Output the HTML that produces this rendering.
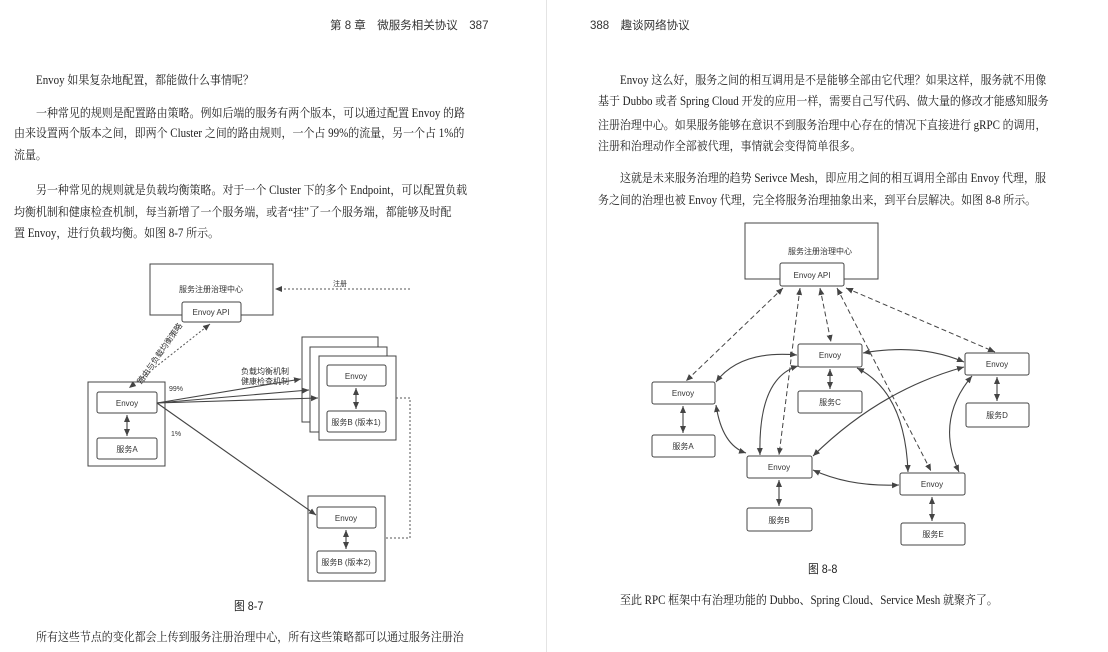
<!DOCTYPE html>
<html><head><meta charset="utf-8"><style>
html,body{margin:0;padding:0;background:#fff;}
body{width:1108px;height:652px;position:relative;overflow:hidden;font-family:"Liberation Serif","Noto Serif CJK SC",serif;color:#222;}
.l{position:absolute;font-size:12.2px;white-space:nowrap;line-height:18px;transform:scaleX(0.9);transform-origin:0 0;}
.h{position:absolute;font-family:"Liberation Sans","Noto Sans CJK SC",sans-serif;font-size:11.5px;color:#333;}
svg{position:absolute;left:0;top:0;}
svg text{font-family:"Liberation Sans","Noto Sans CJK SC",sans-serif;fill:#333;}
</style></head><body>
<div style="position:absolute;left:546px;top:0;width:1px;height:652px;background:#e4e4e4"></div>
<div class="h" style="left:330px;top:17px;">第 8 章　微服务相关协议　387</div>
<div class="h" style="left:590px;top:17px;">388　趣谈网络协议</div>

<div class="l" style="left:36px;top:71px;">Envoy 如果复杂地配置，都能做什么事情呢？</div>
<div class="l" style="left:36px;top:104px;">一种常见的规则是配置路由策略。例如后端的服务有两个版本，可以通过配置 Envoy 的路</div>
<div class="l" style="left:14px;top:124px;">由来设置两个版本之间，即两个 Cluster 之间的路由规则，一个占 99%的流量，另一个占 1%的</div>
<div class="l" style="left:14px;top:146px;">流量。</div>
<div class="l" style="left:36px;top:181px;">另一种常见的规则就是负载均衡策略。对于一个 Cluster 下的多个 Endpoint，可以配置负载</div>
<div class="l" style="left:14px;top:203px;">均衡机制和健康检查机制，每当新增了一个服务端，或者“挂”了一个服务端，都能够及时配</div>
<div class="l" style="left:14px;top:224px;">置 Envoy，进行负载均衡。如图 8-7 所示。</div>
<div class="l" style="left:234px;top:597px;font-size:12px;font-family:'Liberation Sans','Noto Sans CJK SC',sans-serif;">图 8-7</div>
<div class="l" style="left:36px;top:628px;">所有这些节点的变化都会上传到服务注册治理中心，所有这些策略都可以通过服务注册治</div>

<div class="l" style="left:620px;top:71px;">Envoy 这么好，服务之间的相互调用是不是能够全部由它代理？如果这样，服务就不用像</div>
<div class="l" style="left:598px;top:92px;">基于 Dubbo 或者 Spring Cloud 开发的应用一样，需要自己写代码、做大量的修改才能感知服务</div>
<div class="l" style="left:598px;top:116px;">注册治理中心。如果服务能够在意识不到服务治理中心存在的情况下直接进行 gRPC 的调用，</div>
<div class="l" style="left:598px;top:137px;">注册和治理动作全部被代理，事情就会变得简单很多。</div>
<div class="l" style="left:620px;top:169px;">这就是未来服务治理的趋势 Serivce Mesh，即应用之间的相互调用全部由 Envoy 代理，服</div>
<div class="l" style="left:598px;top:191px;">务之间的治理也被 Envoy 代理，完全将服务治理抽象出来，到平台层解决。如图 8-8 所示。</div>
<div class="l" style="left:808px;top:560px;font-size:12px;font-family:'Liberation Sans','Noto Sans CJK SC',sans-serif;">图 8-8</div>
<div class="l" style="left:620px;top:591px;">至此 RPC 框架中有治理功能的 Dubbo、Spring Cloud、Service Mesh 就聚齐了。</div>

<svg width="1108" height="652" viewBox="0 0 1108 652">
<defs>
<marker id="a" markerWidth="8" markerHeight="8" refX="7" refY="4" orient="auto-start-reverse" markerUnits="userSpaceOnUse"><path d="M0,1 L7,4 L0,7 z" fill="#444"/></marker>
</defs>
<g fill="#fff" stroke="#444" stroke-width="1">
<rect x="150" y="264" width="123" height="51"/>
<rect x="182" y="302" width="59" height="20" rx="2"/>
<rect x="88" y="382" width="77" height="84"/>
<rect x="97" y="392" width="60" height="21" rx="2"/>
<rect x="97" y="438" width="60" height="21" rx="2"/>
<rect x="302" y="337" width="76" height="85"/>
<rect x="310" y="347" width="77" height="85"/>
<rect x="319" y="356" width="77" height="84"/>
<rect x="327" y="365" width="59" height="21" rx="2"/>
<rect x="327" y="411" width="59" height="21" rx="2"/>
<rect x="308" y="496" width="77" height="85"/>
<rect x="317" y="507" width="59" height="21" rx="2"/>
<rect x="317" y="551" width="59" height="22" rx="2"/>
<rect x="745" y="223" width="133" height="56"/>
<rect x="780" y="263" width="64" height="23" rx="2"/>
<rect x="798" y="344" width="64" height="23" rx="2"/>
<rect x="798" y="391" width="64" height="22" rx="2"/>
<rect x="965" y="353" width="64" height="22" rx="2"/>
<rect x="966" y="403" width="63" height="24" rx="2"/>
<rect x="652" y="382" width="63" height="22" rx="2"/>
<rect x="652" y="435" width="63" height="22" rx="2"/>
<rect x="747" y="456" width="65" height="22" rx="2"/>
<rect x="747" y="508" width="65" height="23" rx="2"/>
<rect x="900" y="473" width="65" height="22" rx="2"/>
<rect x="901" y="523" width="64" height="22" rx="2"/>
</g>
<g font-size="8" text-anchor="middle">
<text x="211" y="292">服务注册治理中心</text>
<text x="211" y="315">Envoy API</text>
<text x="127" y="406">Envoy</text>
<text x="127" y="452">服务A</text>
<text x="356" y="379">Envoy</text>
<text x="356" y="425">服务B (版本1)</text>
<text x="346" y="521">Envoy</text>
<text x="346" y="565">服务B (版本2)</text>
<text x="340" y="286" font-size="7">注册</text>
<text x="176" y="391" font-size="7">99%</text>
<text x="176" y="436" font-size="7">1%</text>
<text x="265" y="374" font-size="8">负载均衡机制</text>
<text x="265" y="384" font-size="8">健康检查机制</text>
<text x="0" y="0" font-size="8" transform="translate(162,355) rotate(-55)">路由与负载均衡策略</text>
<text x="820" y="254">服务注册治理中心</text>
<text x="812" y="278">Envoy API</text>
<text x="830" y="358">Envoy</text>
<text x="830" y="405">服务C</text>
<text x="997" y="367">Envoy</text>
<text x="997" y="418">服务D</text>
<text x="683" y="396">Envoy</text>
<text x="683" y="449">服务A</text>
<text x="779" y="470">Envoy</text>
<text x="779" y="523">服务B</text>
<text x="932" y="487">Envoy</text>
<text x="933" y="537">服务E</text>
</g>
<g fill="none" stroke="#444" stroke-width="1.1" marker-start="url(#a)" marker-end="url(#a)">
<line x1="127" y1="415" x2="127" y2="436"/>
<line x1="356" y1="388" x2="356" y2="409"/>
<line x1="346" y1="530" x2="346" y2="549"/>
<line x1="830" y1="369" x2="830" y2="389"/>
<line x1="997" y1="377" x2="997" y2="401"/>
<line x1="683" y1="406" x2="683" y2="433"/>
<line x1="779" y1="480" x2="779" y2="506"/>
<line x1="932" y1="497" x2="932" y2="521"/>
<path d="M797,355 Q740,350 716,382"/>
<path d="M863,353 Q920,343 964,362"/>
<path d="M716,405 Q722,445 746,453"/>
<path d="M798,366 Q758,378 760,455"/>
<path d="M964,367 Q880,390 813,456"/>
<path d="M857,368 Q905,392 908,472"/>
<path d="M972,376 Q935,420 959,472"/>
<path d="M813,470 Q850,487 899,485"/>
</g>
<g fill="none" stroke="#444" stroke-width="1.1" marker-end="url(#a)">
<line x1="157" y1="403" x2="301" y2="379"/>
<line x1="157" y1="403" x2="309" y2="390"/>
<line x1="157" y1="403" x2="318" y2="398"/>
<line x1="157" y1="403" x2="316" y2="515"/>
</g>
<g fill="none" stroke="#555" stroke-width="1" stroke-dasharray="2,2">
<path d="M396,398 H410 V538 H385 M410,289 H275" marker-end="url(#a)"/>
<line x1="210" y1="324" x2="129" y2="388" marker-start="url(#a)" marker-end="url(#a)"/>
</g>
<g fill="none" stroke="#444" stroke-width="1" stroke-dasharray="5,3" marker-start="url(#a)" marker-end="url(#a)">
<line x1="783" y1="288" x2="686" y2="381"/>
<line x1="800" y1="288" x2="779" y2="455"/>
<line x1="820" y1="288" x2="831" y2="342"/>
<line x1="837" y1="288" x2="931" y2="471"/>
<line x1="846" y1="288" x2="995" y2="352"/>
</g>
</svg>
</body></html>
